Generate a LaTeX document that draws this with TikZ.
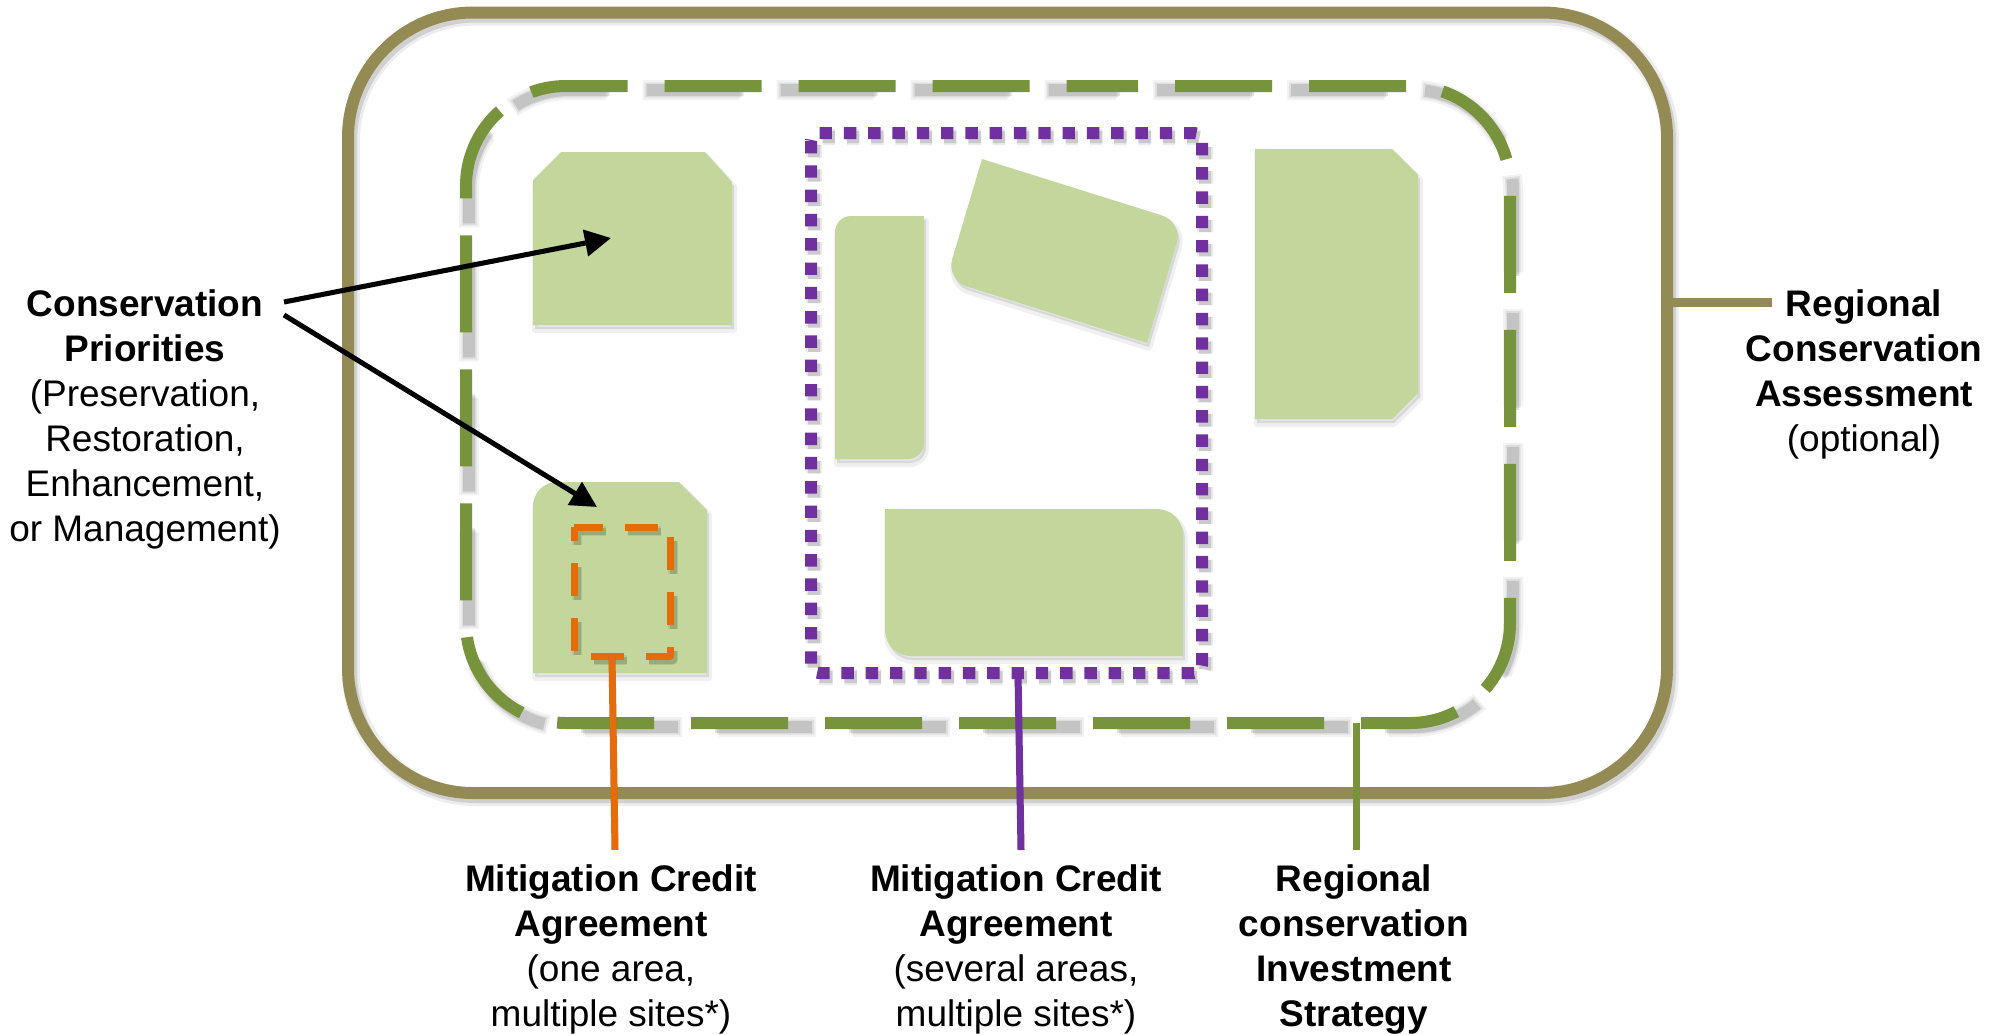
\documentclass[tikz,border=0pt]{standalone}
\usepackage{fontspec}
\setmainfont{Liberation Sans}
\usetikzlibrary{calc,arrows.meta}
\definecolor{olivec}{HTML}{948A54}
\definecolor{greenl}{HTML}{77933C}
\definecolor{fillg}{HTML}{C3D69B}
\definecolor{purp}{HTML}{7030A0}
\definecolor{oran}{HTML}{E46C0A}
% rounded corner at #2 between #1 and #3, radius #4, control offset #5
\newcommand\rcorner[5]{-- ($(#2)!#4!(#1)$) .. controls ($(#2)!#5!(#1)$) and ($(#2)!#5!(#3)$) .. ($(#2)!#4!(#3)$)}
\newcommand\fillshadow[1]{%
  \fill[black,opacity=0.10,xshift=1pt,yshift=-2pt] #1;
  \draw[black,opacity=0.06,line width=3pt,xshift=1pt,yshift=-2.5pt] #1;}
\tikzset{
  txt/.style={align=center,inner sep=0pt,font=\fontsize{18.5}{22.5}\selectfont},
  shapeg/.style={fill=fillg},
  gpath/.style={rounded corners=50pt,line width=6pt,dash pattern=on 48.5pt off 18.5pt},
  ppath/.style={line width=6pt,dash pattern=on 6.2pt off 5.95pt,rounded corners=4pt},
  opath/.style={line width=3.5pt,dash pattern=on 16.5pt off 11pt,dash phase=2pt},
  conn/.style={line width=3.5pt},
  arr/.style={line width=2.5pt,-{Triangle[length=13pt,width=13pt]}},
  shd/.style={black,opacity=#1,xshift=1.5pt,yshift=-2pt},
}
\begin{document}
\begin{tikzpicture}[x=0.5pt,y=-0.5pt,line join=round]
\useasboundingbox (0,0) rectangle (2005,1034);

% ---------- outer box (Regional Conservation Assessment)
\draw[shd=0.07,line width=9pt,rounded corners=62.5pt] (348,12.5) rectangle (1667,793);
\draw[shd=0.12,line width=6pt,rounded corners=62.5pt] (348,12.5) rectangle (1667,793);
\draw[olivec,line width=6pt,rounded corners=62.5pt] (348,12.5) rectangle (1667,793);

% ---------- green dashed box (RCIS)
\draw[gpath,shd=0.05,line width=10pt,dash phase=36pt] (988,86) -- (1510,86) -- (1510,723) -- (466,723) -- (466,86) -- cycle;
\draw[gpath,shd=0.08,line width=7.5pt,dash phase=35pt] (988,86) -- (1510,86) -- (1510,723) -- (466,723) -- (466,86) -- cycle;
\draw[gpath,shd=0.12,dash phase=34pt] (988,86) -- (1510,86) -- (1510,723) -- (466,723) -- (466,86) -- cycle;
\draw[gpath,greenl,dash phase=23.5pt] (988,86) -- (1510,86) -- (1510,723) -- (466,723) -- (466,86) -- cycle;

% ---------- conservation areas
\fillshadow{(533,180) -- (561,152) -- (705,152) -- (732,182) -- (732,325) -- (533,325) -- cycle}
\fill[shapeg] (533,180) -- (561,152) -- (705,152) -- (732,182) -- (732,325) -- (533,325) -- cycle;

\fillshadow{(620,482) -- (679,482) -- (707,510) -- (707,673) -- (533,673) \rcorner{533,673}{533,482}{620,482}{12pt}{5.4pt} -- cycle}
\fill[shapeg] (620,482) -- (679,482) -- (707,510) -- (707,673) -- (533,673) \rcorner{533,673}{533,482}{620,482}{12pt}{5.4pt} -- cycle;

\fillshadow{(880,216) -- (924,216) \rcorner{924,216}{924,459}{835,459}{8pt}{3.6pt} -- (835,459) \rcorner{835,459}{835,216}{880,216}{8pt}{3.6pt} -- cycle}
\fill[shapeg] (880,216) -- (924,216) \rcorner{924,216}{924,459}{835,459}{8pt}{3.6pt} -- (835,459) \rcorner{835,459}{835,216}{880,216}{8pt}{3.6pt} -- cycle;

\fillshadow{($(982,159)!0.5!(1183,222)$) \rcorner{982,159}{1183,222}{1147,343}{11pt}{4.9pt} -- (1147,343) \rcorner{1147,343}{946,280}{982,159}{11pt}{4.9pt} -- (982,159) -- cycle}
\fill[shapeg] ($(982,159)!0.5!(1183,222)$) \rcorner{982,159}{1183,222}{1147,343}{11pt}{4.9pt} -- (1147,343) \rcorner{1147,343}{946,280}{982,159}{11pt}{4.9pt} -- (982,159) -- cycle;

\fillshadow{(1000,509) \rcorner{885,509}{1183,509}{1183,656}{13pt}{5.8pt} -- (1183,656) \rcorner{1183,656}{885,656}{885,509}{13pt}{5.8pt} -- (885,509) -- cycle}
\fill[shapeg] (1000,509) \rcorner{885,509}{1183,509}{1183,656}{13pt}{5.8pt} -- (1183,656) \rcorner{1183,656}{885,656}{885,509}{13pt}{5.8pt} -- (885,509) -- cycle;

\fillshadow{(1255,149) -- (1392,149) -- (1418,175) -- (1418,393) -- (1392,419) -- (1255,419) -- cycle}
\fill[shapeg] (1255,149) -- (1392,149) -- (1418,175) -- (1418,393) -- (1392,419) -- (1255,419) -- cycle;

% ---------- purple dotted box
\draw[ppath,shd=0.08,line width=8pt] (811,133) rectangle (1202,673);
\draw[ppath,shd=0.14] (811,133) rectangle (1202,673);
\draw[ppath,purp] (811,133) rectangle (1202,673);

% ---------- orange dashed box
\draw[opath,shd=0.08,line width=5pt] (574,527) -- (670,527) -- (670,656) -- (574,656) -- cycle;
\draw[opath,shd=0.14] (574,527) -- (670,527) -- (670,656) -- (574,656) -- cycle;
\draw[opath,oran] (574,527) -- (670,527) -- (670,656) -- (574,656) -- cycle;

% ---------- coordinates
\coordinate (obot) at (612,656);  \coordinate (olab) at (615,850);
\coordinate (pbot) at (1018,673); \coordinate (plab) at (1021,850);
\coordinate (gbot) at (1356,723); \coordinate (glab) at (1356,850);
\coordinate (rbox) at (1667,302); \coordinate (rlab) at (1772,302);
\coordinate (s1) at (284,302); \coordinate (t1) at (611,238);
\coordinate (s2) at (284,315); \coordinate (t2) at (597,507);

% ---------- connectors
\draw[conn,shd=0.12] (obot) -- (olab);
\draw[conn,oran] (obot) -- (olab);
\draw[conn,shd=0.12] (pbot) -- (plab);
\draw[conn,purp] (pbot) -- (plab);
\draw[conn,shd=0.12] (gbot) -- (glab);
\draw[conn,greenl] (gbot) -- (glab);
\draw[line width=4.5pt,shd=0.12] (rbox) -- (rlab);
\draw[line width=4.5pt,olivec] (rbox) -- (rlab);

% ---------- arrows
\draw[arr,shd=0.12] (s1) -- (t1);
\draw[arr,shd=0.12] (s2) -- (t2);
\draw[arr,black] (s1) -- (t1);
\draw[arr,black] (s2) -- (t2);

% ---------- labels
\node[txt] (cp) at (145,419) {\textbf{Conservation}\\\textbf{Priorities}\\(Preservation,\\Restoration,\\Enhancement,\\or Management)};
\node[txt] (rca) at (1864,374) {\textbf{Regional}\\\textbf{Conservation}\\\textbf{Assessment}\\(optional)};
\node[txt] (mca1) at (611,949) {\textbf{Mitigation Credit}\\\textbf{Agreement}\\(one area,\\multiple sites*)};
\node[txt] (mca2) at (1016,949) {\textbf{Mitigation Credit}\\\textbf{Agreement}\\(several areas,\\multiple sites*)};
\node[txt] (rcis) at (1354,949) {\textbf{Regional}\\\textbf{conservation}\\\textbf{Investment}\\\textbf{Strategy}};
\end{tikzpicture}
\end{document}
